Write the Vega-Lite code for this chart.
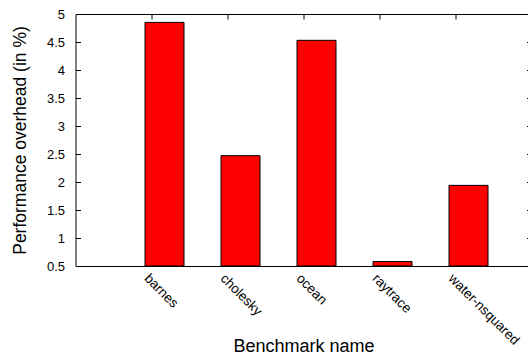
{
  "$schema": "https://vega.github.io/schema/vega-lite/v6.json",
  "autosize": {"type": "none"},
  "padding": {"left": 75.5, "top": 14, "right": 0, "bottom": 88},
  "width": 456,
  "height": 252,
  "background": "white",
  "config": {
    "font": "Liberation Sans",
    "view": {"stroke": "#000", "strokeWidth": 1},
    "axis": {"grid": false, "domain": false, "tickColor": "#000", "labelColor": "#000", "titleColor": "#000", "labelFont": "Liberation Sans", "titleFont": "Liberation Sans", "titleFontWeight": "normal"}
  },
  "data": {"values": [
    {"benchmark": "barnes", "overhead": 4.85},
    {"benchmark": "cholesky", "overhead": 2.47},
    {"benchmark": "ocean", "overhead": 4.53},
    {"benchmark": "raytrace", "overhead": 0.58},
    {"benchmark": "water-nsquared", "overhead": 1.94}
  ]},
  "layer": [
    {
      "mark": {"type": "bar", "fill": "#ff0000", "stroke": "#000", "strokeWidth": 1, "width": 39, "xOffset": 13},
      "encoding": {
        "x": {"field": "benchmark", "type": "nominal", "sort": null,
          "scale": {"paddingInner": 0, "paddingOuter": 0.5},
          "axis": {"orient": "bottom", "title": "Benchmark name", "titleFontSize": 18, "titleY": 85, "titleBaseline": "alphabetic",
            "labelAngle": 45, "labelAlign": "left", "labelBaseline": "top", "labelFontSize": 13.5, "labelPadding": 5, "tickSize": -5, "ticks": false}},
        "y": {"field": "overhead", "type": "quantitative",
          "scale": {"domain": [0.5, 5], "zero": false, "nice": false},
          "axis": {"orient": "left", "title": "Performance overhead (in %)", "titleFontSize": 17.5, "titleX": -50, "titleBaseline": "alphabetic",
            "values": [0.5, 1, 1.5, 2, 2.5, 3, 3.5, 4, 4.5, 5], "format": "~g", "labelFontSize": 13, "tickSize": -5, "labelPadding": 16}},
        "y2": {"datum": 0.5}
      }
    },
    {
      "mark": {"type": "bar", "opacity": 0, "width": 39},
      "encoding": {
        "x": {"field": "benchmark", "type": "nominal", "sort": null,
          "axis": {"orient": "top", "title": null, "labels": false, "tickSize": -5}},
        "y": {"field": "overhead", "type": "quantitative",
          "axis": {"orient": "right", "title": null, "labels": false, "tickSize": -5,
            "values": [0.5, 1, 1.5, 2, 2.5, 3, 3.5, 4, 4.5, 5]}},
        "y2": {"datum": 0.5}
      }
    }
  ],
  "resolve": {"axis": {"x": "independent", "y": "independent"}}
}
